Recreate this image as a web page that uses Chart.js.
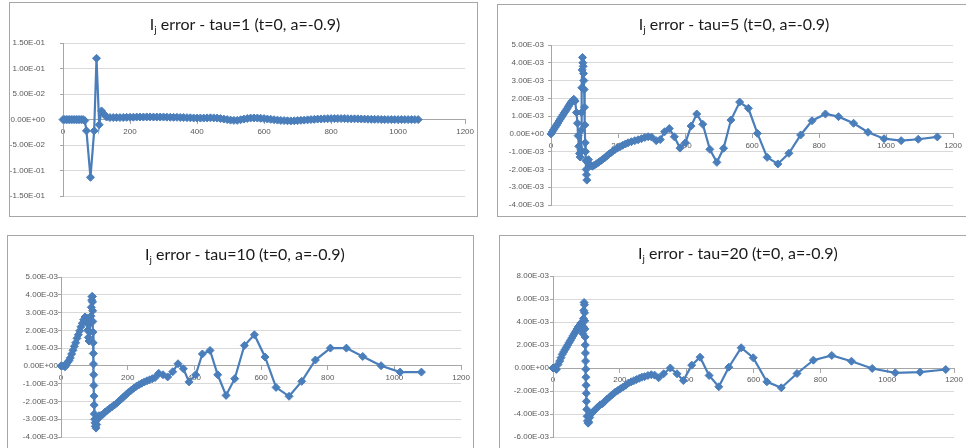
<!DOCTYPE html>
<html>
<head>
<meta charset="utf-8">
<script src="https://cdn.jsdelivr.net/npm/chart.js@4.4.1/dist/chart.umd.min.js"></script>
<style>
  html, body { margin: 0; padding: 0; background: #fff; }
  body { width: 966px; height: 448px; overflow: hidden; position: relative; }
  .frame { position: absolute; border: 1px solid #a6a6a6; box-sizing: border-box; background: #fff; }
  .title { position: absolute; transform: translate(-50%, -50%); font-family: Lato, 'Liberation Sans', sans-serif;
           font-size: 16px; color: #1a1a1a; white-space: nowrap; }
  .title sub { font-size: 10px; vertical-align: -3px; }
  canvas { position: absolute; }
</style>
</head>
<body>
<script>
// I_j error against x for four tau values (t=0, a=-0.9)
const tauValues = [1, 5, 10, 20];

const tau1X = [0,5,10,15,20,25,30,35,40,45,50,55,60,65,70,82,93,100,108,115,122,130,
  140,150,160,170,180,190,200,210,220,230,
  240,250,260,270,280,290,300,310,320,330,
  340,350,360,370,380,390,400,410,420,430,
  440,450,460,470,480,490,500,510,520,530,
  540,550,560,570,580,590,600,610,620,630,
  640,650,660,670,680,690,700,710,720,730,
  740,750,760,770,780,790,800,810,820,830,
  840,850,860,870,880,890,900,910,920,930,
  940,950,960,970,980,990,1000,1010,1020,1030,
  1040,1050,1060];
const tau1Y = [0,0,0,0,0,0,0,0,0,0,0,0,0,-0.002,-0.022,-0.113,-0.022,0.12,-0.01,0.017,0.011,0.005,
  0.004,0.004,0.004,0.004,0.0042,0.0044,0.0045,0.0047,0.005,0.005,
  0.005,0.0052,0.0052,0.005,0.005,0.005,0.005,0.0048,0.0046,0.0045,
  0.0045,0.0042,0.004,0.0038,0.0035,0.0032,0.003,0.003,0.003,0.0033,
  0.0035,0.0033,0.003,0.002,0.001,0,-0.001,-0.0015,-0.0015,-0.0003,
  0.001,0.0022,0.003,0.0032,0.003,0.0025,0.002,0.0012,0.0005,-0.0003,
  -0.001,-0.0016,-0.002,-0.0023,-0.0025,-0.0023,-0.002,-0.0015,-0.001,-0.0005,
  0,0.0005,0.001,0.0013,0.0015,0.0018,0.002,0.002,0.002,0.002,
  0.002,0.0018,0.0015,0.0015,0.0015,0.0012,0.001,0.0008,0.0005,0.0005,
  0.0005,0.0002,0,0,0,0,0,0,0,0,
  0,0,0];

const tau5X = [0,4,8,12,16,20,24,28,32,36,40,44,48,52,56,60,64,68,72,
  76,79,81,83,85,87,89,90,91,92,93,94,95,96,97,98,99,100,101,102,103,104,105,106,107,
  109,112,115,119,124,130,136,142,148,154,160,166,172,178,184,190,198,206,214,222,230,240,250,260,270,280,290,300,314,326,
  339,353,368,385,401,418,435,453,474,495,515,537,563,589,616,645,677,710,745,779,819,858,903,946,994,1045,1096,1153];
const tau5Y = [0,0.00012,0.00024,0.00036,0.00048,0.0006,0.00072,0.00084,0.00096,0.00108,0.0012,0.0013,0.00142,0.00155,0.00167,0.00178,0.00188,0.00195,0.00185,
  0.0012,0.0006,-0.0001,-0.0007,-0.0011,-0.0013,-0.0009,0.0002,0.0012,0.0026,0.0036,0.0043,0.004,0.0038,0.0034,0.003,0.0025,0.0015,0.0005,-0.0005,-0.001,-0.0015,-0.002,-0.0023,-0.0026,
  -0.0016,-0.00145,-0.0017,-0.0018,-0.00182,-0.00175,-0.00168,-0.0016,-0.00152,-0.00143,-0.00135,-0.00125,-0.00115,-0.00107,-0.00098,-0.0009,-0.0008,-0.00072,-0.00064,-0.00057,-0.0005,-0.00044,-0.00038,-0.00033,-0.00027,-0.0002,-0.00016,-0.00018,-0.00038,-0.00032,
  0.00012,0.0003,-0.00016,-0.0008,-0.0005,0.00044,0.00112,0.00054,-0.00087,-0.0016,-0.00081,0.00078,0.00179,0.00144,0.00003,-0.00132,-0.00169,-0.00109,-0.00006,0.00074,0.00112,0.00097,0.0006,0.00009,-0.00027,-0.00038,-0.0003,-0.00017];

const tau10X = [0,6,12,16,20,24,28,32,36,40,44,48,52,56,60,64,68,72,
  75,77,79,80,82,84,86,88,90,91,92,93,94,94.5,95,95.5,96,96.5,97,97.5,98,98.5,99,99.5,100,101,102,103,105,107,110,114,119,125,
  132,139,146,153,160,167,174,181,188,195,202,210,218,226,234,242,250,258,266,274,282,
  293,306,320,335,351,367,384,404,424,447,470,495,521,550,580,612,645,684,722,763,808,856,905,960,1017,1081];
const tau10Y = [0,0,-0.00005,0.00005,0.0002,0.0003,0.00045,0.00067,0.00088,0.0011,0.0013,0.00155,0.00175,0.00197,0.0022,0.0024,0.0026,0.00275,
  0.0026,0.0027,0.0024,0.002,0.0016,0.0014,0.0019,0.0024,0.0028,0.0033,0.0037,0.0039,0.0039,0.0036,0.0031,0.0025,0.0019,0.0013,0.0007,0.0001,-0.0005,-0.0011,-0.0017,-0.0022,-0.0027,-0.003,-0.0032,-0.0034,-0.0035,-0.0033,-0.003,-0.0028,-0.0028,-0.00274,
  -0.0026,-0.0025,-0.0024,-0.0023,-0.0022,-0.0021,-0.00198,-0.00186,-0.00174,-0.00162,-0.0015,-0.00138,-0.00126,-0.00115,-0.00106,-0.00098,-0.0009,-0.00084,-0.00078,-0.00072,-0.00066,
  -0.00042,-0.0005,-0.00062,-0.00033,0.00012,-0.00016,-0.0009,-0.0005,0.00067,0.00087,-0.0005,-0.00166,-0.00072,0.00115,0.00175,0.0005,-0.00121,-0.00171,-0.00087,0.00033,0.001,0.001,0.00053,0.00001,-0.00035,-0.00035];

const tau20X = [0,5,10,15,20,24,28,32,36,40,44,48,52,56,60,64,68,72,76,80,83,
  85,87,89,90,91,92,93,94,94.5,95,95.5,96,96.5,97,97.5,98,98.5,99,99.5,100,101,102,103,105,107,110,114,120,
  127,134,141,148,155,162,170,178,186,194,202,210,218,226,234,242,250,258,266,274,284,294,304,316,
  331,351,371,390,415,440,467,496,526,563,599,640,683,730,779,834,893,955,1024,1098,1175];
const tau20Y = [0,0,-0.00012,0.0003,0.0006,0.0009,0.0012,0.0014,0.0016,0.0018,0.002,0.0022,0.0024,0.0026,0.0028,0.003,0.0032,0.0034,0.0036,0.0037,0.0039,
  0.0037,0.0033,0.003,0.0036,0.0043,0.005,0.0057,0.0055,0.0048,0.0041,0.0034,0.0027,0.002,0.0013,0.0006,-0.0001,-0.0008,-0.0015,-0.0022,-0.0029,-0.0036,-0.0042,-0.0046,-0.0048,-0.0047,-0.0043,-0.004,-0.0038,
  -0.0036,-0.0034,-0.0032,-0.0031,-0.0029,-0.0027,-0.0025,-0.0023,-0.0021,-0.00195,-0.0018,-0.00165,-0.0015,-0.0013,-0.0012,-0.0011,-0.001,-0.0009,-0.0008,-0.00075,-0.00065,-0.00058,-0.00062,-0.00085,
  -0.0005,0,-0.0005,-0.00109,0.00025,0.00094,-0.00065,-0.00163,0.00007,0.00176,0.00089,-0.0012,-0.00172,-0.00048,0.00068,0.00109,0.00059,-0.00004,-0.00042,-0.00036,-0.00013];

// axis ranges: [min, max, step]
const xRange = [0, 1200, 200];
const yRanges = [[-0.15, 0.15, 0.05], [-0.004, 0.005, 0.001], [-0.004, 0.005, 0.001], [-0.006, 0.008, 0.002]];

const seriesX = [tau1X, tau5X, tau10X, tau20X];
const seriesY = [tau1Y, tau5Y, tau10Y, tau20Y];

// layout of the four panels (page pixels)
const panels = [
  { frame: [9, 2, 469, 215],   canvas: [9, 2, 468, 214],   pad: [41, 11, 10], yPad: 15, title: [245, 24] },
  { frame: [497, 4, 471, 213], canvas: [497, 4, 468, 212], pad: [41, 10, 11], yPad: 4,  title: [734, 24] },
  { frame: [7, 235, 467, 225], canvas: [7, 235, 466, 213], pad: [42, 9, 11],  yPad: 0,  title: [245, 254] },
  { frame: [499, 235, 475, 225], canvas: [499, 235, 467, 213], pad: [41, 7, 11], yPad: 1, title: [738, 253] }
];

const BLUE = '#4a7ebb';
const tickFont = { family: "'Liberation Sans Narrow', 'Liberation Sans', sans-serif", size: 8 };

// Excel-style 0.00E+00 number format
function sci(v) {
  if (Math.abs(v) < 1e-12) return '0.00E+00';
  let e = Math.floor(Math.log10(Math.abs(v)));
  let m = v / Math.pow(10, e);
  if (Math.abs(m) >= 9.995) { m /= 10; e += 1; }
  return m.toFixed(2) + 'E' + (e < 0 ? '-' : '+') + String(Math.abs(e)).padStart(2, '0');
}

panels.forEach((p, i) => {
  const fr = document.createElement('div');
  fr.className = 'frame';
  Object.assign(fr.style, { left: p.frame[0] + 'px', top: p.frame[1] + 'px', width: p.frame[2] + 'px', height: p.frame[3] + 'px' });
  document.body.appendChild(fr);

  const cv = document.createElement('canvas');
  cv.width = p.canvas[2]; cv.height = p.canvas[3];
  Object.assign(cv.style, { left: p.canvas[0] + 'px', top: p.canvas[1] + 'px', width: p.canvas[2] + 'px', height: p.canvas[3] + 'px' });
  document.body.appendChild(cv);

  const t = document.createElement('div');
  t.className = 'title';
  t.innerHTML = 'I<sub>j</sub> error - tau=' + tauValues[i] + ' (t=0, a=-0.9)';
  Object.assign(t.style, { left: p.title[0] + 'px', top: p.title[1] + 'px' });
  document.body.appendChild(t);

  const pts = seriesX[i].map((x, k) => ({ x: x, y: seriesY[i][k] }));
  const yr = yRanges[i];

  new Chart(cv, {
    type: 'scatter',
    data: { datasets: [{
      data: pts, showLine: true, tension: 0,
      borderColor: BLUE, backgroundColor: BLUE, borderWidth: 2.2,
      pointStyle: 'rectRot', pointRadius: 4, pointHoverRadius: 4, pointBorderWidth: 1,
      pointBorderColor: BLUE, pointBackgroundColor: BLUE, clip: false
    }] },
    options: {
      responsive: false, animation: false, devicePixelRatio: 1, events: [],
      layout: { padding: { left: 0, top: p.pad[0], right: p.pad[1], bottom: p.pad[2] } },
      plugins: { legend: { display: false }, tooltip: { enabled: false }, title: { display: false } },
      scales: {
        x: {
          type: 'linear', min: xRange[0], max: xRange[1], position: { y: 0 },
          ticks: { stepSize: xRange[2], padding: 3, color: '#595959', font: tickFont, maxRotation: 0, autoSkip: false,
                   callback: (v) => String(v) },
          grid: { drawOnChartArea: false, drawTicks: true, tickLength: 4, tickColor: '#a6a6a6' },
          border: { display: true, color: '#a6a6a6', width: 1 }
        },
        y: {
          type: 'linear', min: yr[0], max: yr[1],
          afterFit: (sc) => { sc.width = 54; },
          ticks: { stepSize: yr[2], padding: p.yPad, color: '#595959', font: tickFont, autoSkip: false, callback: (v) => sci(v) },
          grid: { color: '#d9d9d9', lineWidth: 1, drawTicks: true, tickLength: 3, tickColor: '#a6a6a6' },
          border: { display: true, color: '#a6a6a6', width: 1 }
        }
      }
    }
  });
});
</script>
</body>
</html>
